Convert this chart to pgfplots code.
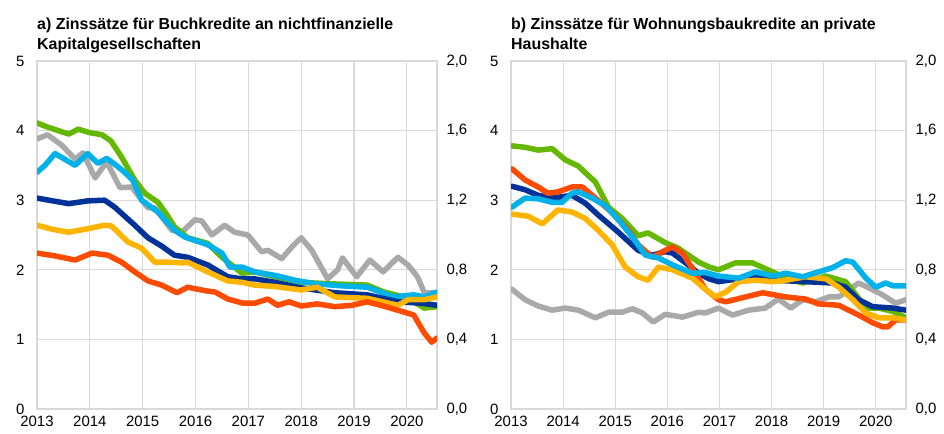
\documentclass[border=0pt]{standalone}
\usepackage{fontspec}
\setmainfont{Liberation Sans}
\usepackage{pgfplots}
\pgfplotsset{compat=1.18}
\definecolor{cdb}{HTML}{003299}
\definecolor{cor}{HTML}{FF4B00}
\definecolor{cye}{HTML}{FFB400}
\definecolor{cgr}{HTML}{65B800}
\definecolor{clb}{HTML}{00B1EA}
\definecolor{cgy}{HTML}{A9A9A9}
\definecolor{gridc}{HTML}{D9D9D9}
\pgfplotsset{
  ecb/.style={
    scale only axis, height=348bp,
    ymin=0, ymax=5, ytick={0,1,2,3,4,5},
    xtick={2013,2014,2015,2016,2017,2018,2019,2020},
    grid=major, grid style={gridc, line width=1.2bp},
    axis line style={gridc, line width=1.2bp},
    major tick length=0pt,
    tick label style={font=\fontsize{15}{18}\selectfont},
    /pgf/number format/assume math mode=true,
    /pgf/number format/1000 sep={},
    xticklabel style={yshift=-4bp},
    yticklabel style={xshift=-9bp},
    every axis plot/.append style={line width=5.5bp, line join=round, line cap=round, no markers},
  },
  ecbr/.style={
    scale only axis, height=348bp,
    ymin=0, ymax=2, ytick={0,0.4,0.8,1.2,1.6,2},
    axis y line*=right, axis x line=none,
    axis line style={draw=none},
    major tick length=0pt,
    tick label style={font=\fontsize{15}{18}\selectfont},
    /pgf/number format/assume math mode=true,
    /pgf/number format/.cd, use comma, fixed, fixed zerofill, precision=1,
    /pgfplots/.cd,
    yticklabel style={xshift=6bp},
  }
}
\begin{document}
\begin{tikzpicture}[x=1bp,y=1bp]
\path[use as bounding box] (0,0) rectangle (944,434);
\tikzset{ttl/.style={anchor=base west, inner sep=0, font=\fontsize{16}{19}\selectfont\bfseries}}
\node[ttl] at (37,404) {a) Zinssätze für Buchkredite an nichtfinanzielle};
\node[ttl] at (37,384) {Kapitalgesellschaften};
\node[ttl] at (511,404) {b) Zinssätze für Wohnungsbaukredite an private};
\node[ttl] at (511,384) {Haushalte};

% ---------- Panel a ----------
\begin{axis}[ecb, width=400bp, xmin=2013, xmax=2020.57, at={(37bp,25bp)}, anchor=south west]
\addplot[cgy] coordinates {(2013.0,3.88)(2013.2,3.94)(2013.47,3.79)(2013.72,3.59)(2013.87,3.68)(2014.1,3.32)(2014.32,3.55)(2014.57,3.18)(2014.79,3.19)(2015.1,2.89)(2015.23,2.89)(2015.55,2.57)(2015.74,2.54)(2015.99,2.72)(2016.12,2.7)(2016.31,2.5)(2016.55,2.64)(2016.74,2.54)(2016.99,2.5)(2017.25,2.26)(2017.37,2.28)(2017.63,2.16)(2017.85,2.35)(2018.0,2.46)(2018.2,2.28)(2018.5,1.87)(2018.69,2.0)(2018.78,2.17)(2019.05,1.9)(2019.3,2.14)(2019.55,1.97)(2019.83,2.18)(2020.02,2.07)(2020.2,1.9)(2020.33,1.67)(2020.57,1.67)};
\addplot[cgr] coordinates {(2013.0,4.11)(2013.2,4.05)(2013.4,4.0)(2013.6,3.95)(2013.78,4.02)(2014.0,3.97)(2014.23,3.94)(2014.4,3.85)(2014.6,3.62)(2014.85,3.29)(2015.04,3.1)(2015.29,2.97)(2015.45,2.8)(2015.6,2.62)(2015.85,2.46)(2016.23,2.38)(2016.5,2.18)(2016.88,1.95)(2017.12,1.97)(2017.5,1.9)(2018.0,1.82)(2018.5,1.8)(2019.25,1.78)(2019.57,1.68)(2020.0,1.6)(2020.33,1.45)(2020.57,1.47)};
\addplot[clb] coordinates {(2013.0,3.4)(2013.15,3.5)(2013.34,3.67)(2013.5,3.6)(2013.72,3.5)(2013.96,3.67)(2014.15,3.53)(2014.32,3.6)(2014.5,3.5)(2014.66,3.4)(2014.81,3.29)(2014.98,3.0)(2015.29,2.83)(2015.6,2.57)(2015.8,2.47)(2016.23,2.36)(2016.5,2.24)(2016.65,2.04)(2016.88,2.04)(2017.12,1.97)(2017.5,1.92)(2017.88,1.85)(2018.25,1.8)(2018.75,1.77)(2019.25,1.75)(2019.5,1.68)(2019.75,1.61)(2020.13,1.64)(2020.33,1.61)(2020.57,1.68)};
\addplot[cdb] coordinates {(2013.0,3.03)(2013.3,2.99)(2013.6,2.95)(2013.96,2.99)(2014.28,3.0)(2014.47,2.9)(2014.85,2.64)(2015.1,2.46)(2015.36,2.34)(2015.6,2.21)(2015.85,2.18)(2016.23,2.07)(2016.61,1.9)(2016.88,1.87)(2017.12,1.87)(2017.5,1.82)(2018.0,1.74)(2018.64,1.67)(2019.25,1.64)(2019.83,1.54)(2020.28,1.52)(2020.57,1.49)};
\addplot[cye] coordinates {(2013.0,2.64)(2013.3,2.58)(2013.6,2.54)(2013.96,2.59)(2014.28,2.64)(2014.41,2.63)(2014.72,2.4)(2014.98,2.31)(2015.23,2.11)(2015.48,2.11)(2015.74,2.1)(2015.85,2.11)(2016.23,1.97)(2016.61,1.84)(2016.88,1.82)(2017.12,1.78)(2017.5,1.76)(2018.0,1.71)(2018.3,1.75)(2018.64,1.61)(2019.25,1.59)(2019.83,1.49)(2020.02,1.57)(2020.33,1.57)(2020.57,1.61)};
\addplot[cor] coordinates {(2013.0,2.24)(2013.34,2.2)(2013.72,2.14)(2014.04,2.24)(2014.34,2.21)(2014.6,2.11)(2014.85,1.97)(2015.1,1.84)(2015.36,1.78)(2015.65,1.67)(2015.85,1.75)(2016.18,1.7)(2016.37,1.68)(2016.61,1.58)(2016.9,1.52)(2017.12,1.52)(2017.37,1.58)(2017.55,1.49)(2017.77,1.54)(2018.0,1.48)(2018.3,1.51)(2018.64,1.47)(2018.96,1.49)(2019.25,1.54)(2019.6,1.47)(2019.87,1.41)(2020.13,1.35)(2020.33,1.09)(2020.47,0.96)(2020.57,1.02)};
\end{axis}
\begin{axis}[ecbr, width=400bp, xmin=2013, xmax=2020.57, at={(37bp,25bp)}, anchor=south west]
\end{axis}

% ---------- Panel b ----------
\begin{axis}[ecb, width=395bp, xmin=2013, xmax=2020.58, at={(511bp,25bp)}, anchor=south west]
\addplot[cgy] coordinates {(2013.02,1.72)(2013.27,1.57)(2013.52,1.48)(2013.79,1.42)(2014.04,1.45)(2014.29,1.42)(2014.62,1.31)(2014.87,1.39)(2015.13,1.39)(2015.33,1.44)(2015.52,1.38)(2015.73,1.25)(2015.96,1.36)(2016.29,1.32)(2016.6,1.39)(2016.73,1.38)(2016.98,1.45)(2017.25,1.35)(2017.56,1.42)(2017.88,1.45)(2018.13,1.58)(2018.37,1.45)(2018.6,1.57)(2018.85,1.54)(2019.1,1.61)(2019.29,1.61)(2019.67,1.81)(2019.87,1.74)(2020.13,1.64)(2020.38,1.52)(2020.58,1.57)};
\addplot[cgr] coordinates {(2013.02,3.78)(2013.27,3.76)(2013.52,3.72)(2013.79,3.74)(2014.04,3.58)(2014.29,3.49)(2014.62,3.26)(2014.87,2.9)(2015.13,2.74)(2015.44,2.49)(2015.63,2.53)(2015.96,2.39)(2016.21,2.31)(2016.6,2.11)(2016.8,2.04)(2016.98,2.0)(2017.31,2.1)(2017.63,2.1)(2018.02,1.97)(2018.27,1.88)(2018.6,1.81)(2019.04,1.91)(2019.42,1.83)(2019.62,1.64)(2019.81,1.45)(2020.06,1.45)(2020.33,1.4)(2020.58,1.31)};
\addplot[cdb] coordinates {(2013.02,3.2)(2013.27,3.15)(2013.52,3.07)(2013.79,3.03)(2014.17,3.07)(2014.42,2.96)(2014.67,2.79)(2015.06,2.54)(2015.44,2.28)(2015.71,2.21)(2015.96,2.26)(2016.1,2.24)(2016.35,2.1)(2016.6,1.95)(2016.8,1.87)(2016.98,1.83)(2017.37,1.87)(2017.69,1.9)(2018.02,1.85)(2018.65,1.83)(2019.17,1.81)(2019.42,1.75)(2019.67,1.57)(2019.94,1.47)(2020.33,1.45)(2020.58,1.42)};
\addplot[cor] coordinates {(2013.02,3.45)(2013.27,3.29)(2013.52,3.19)(2013.71,3.1)(2013.9,3.12)(2014.17,3.19)(2014.37,3.19)(2014.62,3.03)(2014.94,2.82)(2015.25,2.57)(2015.44,2.36)(2015.71,2.18)(2015.96,2.28)(2016.1,2.33)(2016.29,2.24)(2016.54,1.95)(2016.73,1.72)(2016.98,1.57)(2017.12,1.54)(2017.5,1.61)(2017.83,1.67)(2018.27,1.61)(2018.65,1.58)(2018.9,1.51)(2019.29,1.49)(2019.67,1.35)(2019.94,1.24)(2020.13,1.18)(2020.23,1.18)(2020.38,1.28)(2020.58,1.28)};
\addplot[cye] coordinates {(2013.02,2.8)(2013.33,2.77)(2013.6,2.66)(2013.9,2.86)(2014.17,2.83)(2014.42,2.74)(2014.67,2.57)(2014.94,2.36)(2015.19,2.04)(2015.44,1.9)(2015.63,1.85)(2015.83,2.04)(2016.1,2.0)(2016.48,1.88)(2016.73,1.72)(2016.92,1.61)(2017.12,1.68)(2017.37,1.83)(2017.69,1.85)(2018.02,1.83)(2018.27,1.85)(2018.65,1.9)(2019.04,1.87)(2019.29,1.75)(2019.56,1.57)(2019.81,1.38)(2020.06,1.31)(2020.33,1.31)(2020.58,1.28)};
\addplot[clb] coordinates {(2013.02,2.9)(2013.27,3.03)(2013.52,3.02)(2013.79,2.97)(2013.98,2.97)(2014.17,3.1)(2014.29,3.12)(2014.56,3.03)(2014.81,2.92)(2015.06,2.72)(2015.33,2.47)(2015.58,2.21)(2015.83,2.17)(2016.1,2.07)(2016.48,1.95)(2016.73,1.96)(2016.98,1.91)(2017.37,1.88)(2017.69,1.97)(2018.02,1.91)(2018.27,1.95)(2018.6,1.9)(2018.9,1.97)(2019.17,2.03)(2019.42,2.13)(2019.56,2.11)(2019.81,1.88)(2020.0,1.75)(2020.19,1.81)(2020.33,1.77)(2020.58,1.77)};
\end{axis}
\begin{axis}[ecbr, width=395bp, xmin=2013, xmax=2020.58, at={(511bp,25bp)}, anchor=south west]
\end{axis}
\end{tikzpicture}
\end{document}
